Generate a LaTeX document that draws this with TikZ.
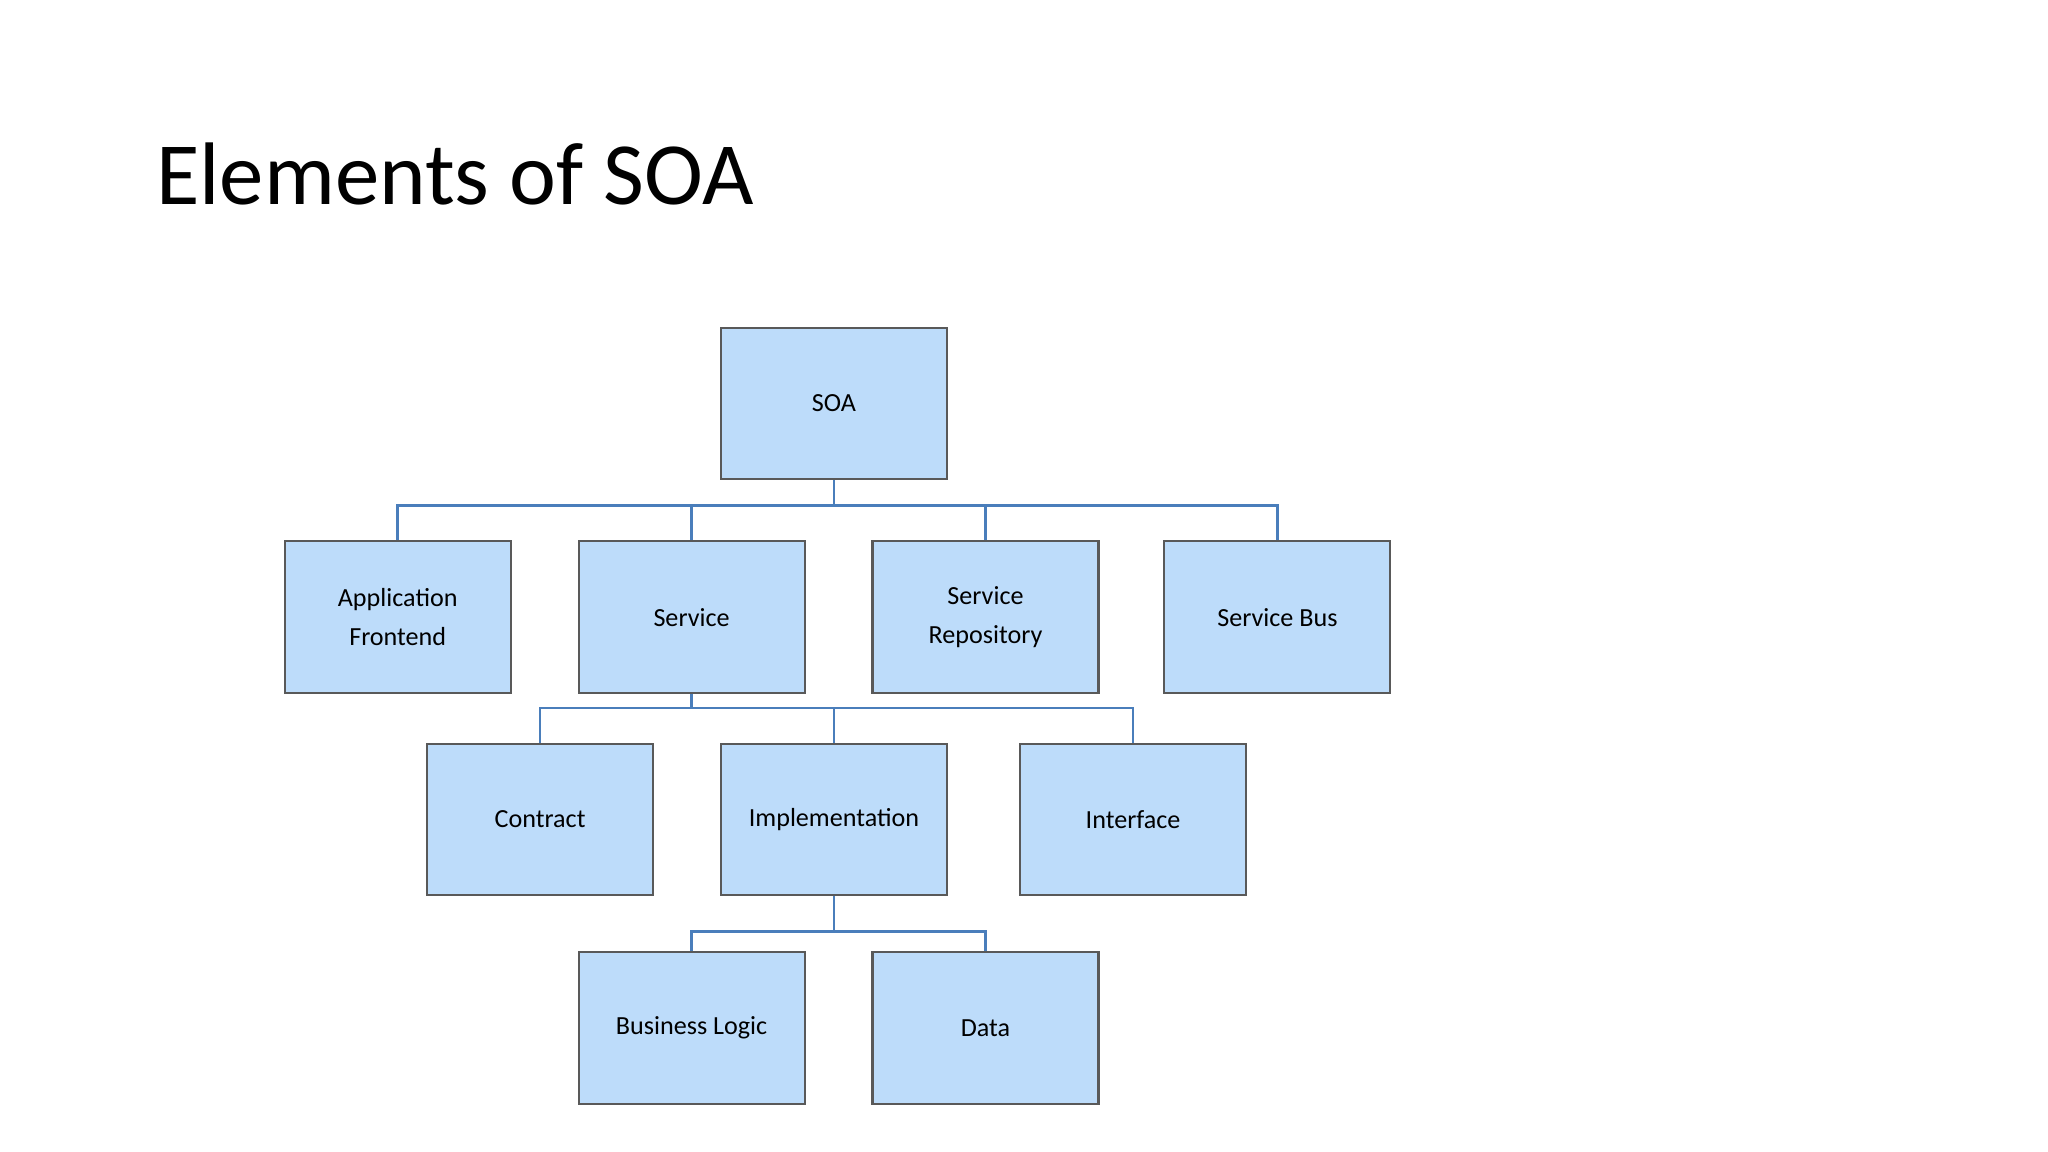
\documentclass[tikz,border=0pt]{standalone}
\usepackage{fontspec}
\setmainfont{Carlito}
\begin{document}
\begin{tikzpicture}[x=1pt,y=-1pt,
  box/.style={draw=black!65,line width=1.6pt,fill={rgb,255:red,189;green,220;blue,250},minimum width=173pt,minimum height=116pt,align=center,font=\fontsize{20}{30}\selectfont,inner sep=0pt},
  conn/.style={draw={rgb,255:red,74;green,126;blue,187},line width=2pt}]
\useasboundingbox (0,0) rectangle (1568,882);
\node[anchor=west,font=\fontsize{68}{80}\selectfont] (title) at (116,133) {Elements of SOA};
\node[box] (soa) at (638.5,309) {SOA};
\node[box] (af) at (304.5,472.5) {Application\\Frontend};
\node[box] (sv) at (529.5,472.5) {Service};
\node[box] (sr) at (754.5,472.5) {Service\\Repository};
\node[box] (sb) at (978,472.5) {Service Bus};
\node[box] (ct) at (413.5,627.5) {Contract};
\node[box] (im) at (638.5,627.5) {Implementation};
\node[box] (it) at (867.5,627.5) {Interface};
\node[box] (bl) at (529.5,787) {Business Logic};
\node[box] (da) at (754.5,787) {Data};
\coordinate (b1) at (638.5,387);
\coordinate (b2) at (529.5,542);
\coordinate (b3) at (638.5,713);
\draw[conn] (soa.south) -- (b1);
\foreach \n in {af,sv,sr,sb} \draw[conn] (b1) -| (\n.north);
\draw[conn] (sv.south) -- (b2);
\foreach \n in {ct,im,it} \draw[conn] (b2) -| (\n.north);
\draw[conn] (im.south) -- (b3);
\foreach \n in {bl,da} \draw[conn] (b3) -| (\n.north);
\end{tikzpicture}
\end{document}
